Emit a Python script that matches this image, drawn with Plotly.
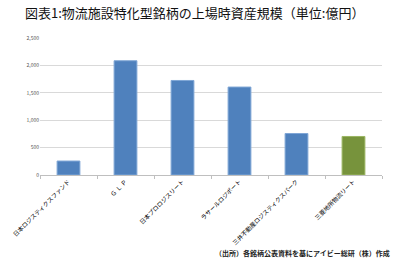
import plotly.graph_objects as go

categories = ["日本ロジスティクスファンド", "Ｇ Ｌ Ｐ", "日本プロロジスリート", "ラサールロジポート",
              "三井不動産ロジスティクスパーク", "三菱地所物流リート"]
values = [255, 2085, 1725, 1605, 757, 703]
colors = ["#4F81BD"] * 5 + ["#77933C"]
line_colors = ["#7FA6D6"] * 5 + ["#9BB562"]
y_ticks = [0, 500, 1000, 1500, 2000, 2500]
y_labels = ["0", "500", "1,000", "1,500", "2,000", "2,500"]

fig = go.Figure(go.Bar(
    x=categories, y=values, width=0.4,
    marker=dict(color=colors, line=dict(color=line_colors, width=1)),
))

font = "Noto Sans CJK JP"
fig.update_layout(
    width=400, height=259,
    margin=dict(l=29, r=18, t=38, b=83),
    paper_bgcolor="white", plot_bgcolor="white",
    showlegend=False,
    font=dict(family=font, color="#000"),
    title=dict(text="図表1:物流施設特化型銘柄の上場時資産規模（単位:億円）",
               x=0.0625, xanchor="left", y=0.95, yanchor="middle",
               font=dict(size=13, family=font, color="#111")),
    annotations=[dict(text="<b>（出所）各銘柄公表資料を基にアイビー総研（株）作成</b>",
                      xref="paper", yref="paper", x=1.03, y=-0.57,
                      xanchor="right", yanchor="middle", showarrow=False,
                      font=dict(size=7, family=font, color="#222"))],
)
fig.update_yaxes(range=[0, 2500], tickvals=y_ticks, ticktext=y_labels,
                 showgrid=True, gridcolor="#D9D9D9", gridwidth=1,
                 zeroline=False, showline=False,
                 tickfont=dict(size=5, color="#555"), ticklen=0)
fig.update_xaxes(tickangle=-45, tickfont=dict(size=6, color="#000"),
                 showline=True, linecolor="#BFBFBF", linewidth=1,
                 ticks="outside", tickson="boundaries", ticklen=3, tickcolor="#BFBFBF")

fig.write_html("out.html")
